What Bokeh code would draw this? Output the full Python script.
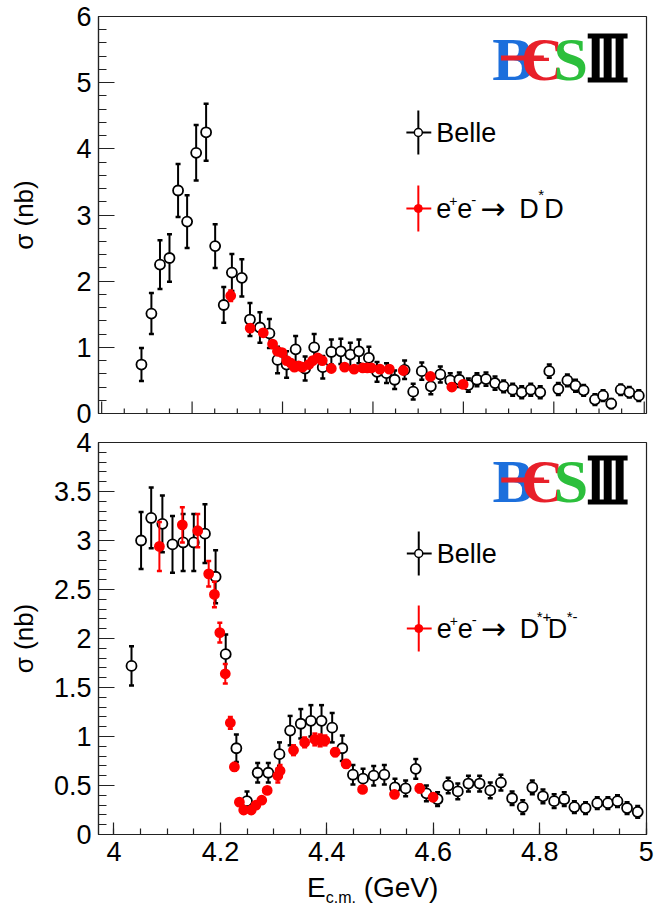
import numpy as np
from bokeh.plotting import figure
from bokeh.models import Range1d, SingleIntervalTicker, Label, Div, BoxAnnotation
from bokeh.layouts import column
from bokeh.embed import file_html
from bokeh.resources import INLINE

# ---------------- data: top panel (e+e- -> D* D) ----------------
belle_dd_x = [3.888, 3.910, 3.929, 3.950, 3.969, 3.989, 4.009, 4.031, 4.051, 4.070,
              4.088, 4.110, 4.128, 4.150, 4.171, 4.189, 4.209, 4.229, 4.250, 4.270,
              4.289, 4.308, 4.329, 4.350, 4.369, 4.391, 4.409, 4.430, 4.448, 4.470,
              4.489, 4.508, 4.528, 4.549, 4.571, 4.591, 4.611, 4.630, 4.650, 4.670,
              4.689, 4.709, 4.729, 4.749, 4.770, 4.790, 4.810, 4.830, 4.848, 4.866,
              4.891, 4.909, 4.927, 4.948, 4.967, 4.988]
belle_dd_y = [0.74, 1.51, 2.25, 2.35, 3.37, 2.90, 3.94, 4.25, 2.53, 1.64,
              2.13, 2.05, 1.42, 1.30, 1.21, 0.81, 0.74, 0.97, 0.68, 1.00,
              0.70, 0.93, 0.94, 0.89, 0.94, 0.84, 0.63, 0.61, 0.51, 0.66,
              0.33, 0.64, 0.41, 0.59, 0.50, 0.51, 0.43, 0.51, 0.52, 0.46,
              0.41, 0.36, 0.32, 0.36, 0.32, 0.64, 0.37, 0.50, 0.42, 0.35,
              0.21, 0.27, 0.15, 0.36, 0.32, 0.27]
belle_dd_err = [0.25, 0.31, 0.37, 0.36, 0.40, 0.40, 0.42, 0.43, 0.33, 0.27,
                0.28, 0.28, 0.25, 0.23, 0.22, 0.20, 0.20, 0.20, 0.18, 0.20,
                0.17, 0.19, 0.19, 0.18, 0.18, 0.17, 0.15, 0.15, 0.14, 0.14,
                0.12, 0.13, 0.12, 0.12, 0.11, 0.11, 0.10, 0.10, 0.10, 0.10,
                0.09, 0.09, 0.09, 0.09, 0.09, 0.10, 0.09, 0.09, 0.09, 0.08,
                0.08, 0.08, 0.07, 0.08, 0.08, 0.08]

bes_dd_x = [4.0854, 4.1285, 4.1574, 4.1780, 4.1888, 4.1989, 4.2092, 4.2187, 4.2263,
            4.2357, 4.2438, 4.2580, 4.2668, 4.2777, 4.2879, 4.3079, 4.3374, 4.3583,
            4.3774, 4.3874, 4.3964, 4.4156, 4.4362, 4.4671, 4.5271, 4.5745, 4.5995]
bes_dd_y = [1.78, 1.29, 1.22, 1.05, 0.94, 0.92, 0.80, 0.76, 0.70,
            0.72, 0.70, 0.74, 0.80, 0.84, 0.80, 0.68, 0.70, 0.67,
            0.69, 0.69, 0.69, 0.67, 0.67, 0.65, 0.56, 0.40, 0.44]
bes_dd_err = [0.08, 0.05, 0.05, 0.03, 0.04, 0.04, 0.04, 0.04, 0.03,
              0.04, 0.04, 0.04, 0.04, 0.04, 0.04, 0.04, 0.04, 0.04,
              0.04, 0.04, 0.04, 0.04, 0.04, 0.04, 0.05, 0.05, 0.05]

# ---------------- data: bottom panel (e+e- -> D*+ D*-) ----------------
belle_dsds_x = [4.033, 4.051, 4.070, 4.091, 4.110, 4.130, 4.150, 4.171, 4.191, 4.210,
                4.230, 4.250, 4.270, 4.290, 4.311, 4.331, 4.351, 4.370, 4.390, 4.410,
                4.429, 4.449, 4.468, 4.488, 4.508, 4.528, 4.548, 4.567, 4.587, 4.608,
                4.628, 4.646, 4.666, 4.687, 4.707, 4.727, 4.748, 4.768, 4.786, 4.806,
                4.827, 4.846, 4.865, 4.886, 4.908, 4.928, 4.946, 4.964, 4.984]
belle_dsds_y = [1.72, 3.00, 3.23, 3.17, 2.96, 2.98, 2.98, 3.07, 2.63, 1.84,
                0.88, 0.34, 0.63, 0.63, 0.82, 1.06, 1.13, 1.16, 1.16, 1.09,
                0.88, 0.61, 0.57, 0.60, 0.61, 0.48, 0.47, 0.67, 0.42, 0.36,
                0.50, 0.44, 0.52, 0.52, 0.45, 0.53, 0.37, 0.28, 0.48, 0.39,
                0.34, 0.36, 0.28, 0.27, 0.32, 0.32, 0.34, 0.27, 0.23]
belle_dsds_err = [0.20, 0.29, 0.31, 0.29, 0.29, 0.29, 0.29, 0.30, 0.27, 0.20,
                  0.14, 0.10, 0.10, 0.10, 0.12, 0.15, 0.15, 0.16, 0.16, 0.15,
                  0.13, 0.10, 0.10, 0.10, 0.10, 0.09, 0.08, 0.10, 0.08, 0.07,
                  0.08, 0.08, 0.08, 0.08, 0.08, 0.08, 0.07, 0.07, 0.07, 0.07,
                  0.07, 0.07, 0.06, 0.06, 0.06, 0.06, 0.06, 0.06, 0.06]

bes_dsds_x = [4.0854, 4.1285, 4.1574, 4.1780, 4.1888, 4.1989, 4.2092, 4.2187, 4.2263,
              4.2357, 4.2438, 4.2580, 4.2668, 4.2777, 4.2879, 4.3079, 4.3121, 4.3374,
              4.3583, 4.3774, 4.3874, 4.3964, 4.4156, 4.4362, 4.4671, 4.5271, 4.5745,
              4.5995]
bes_dsds_y = [2.94, 3.16, 3.10, 2.66, 2.45, 2.06, 1.64, 1.14, 0.69,
              0.33, 0.25, 0.25, 0.30, 0.35, 0.45, 0.60, 0.65, 0.86,
              0.94, 0.97, 0.96, 0.96, 0.84, 0.72, 0.46, 0.41, 0.47,
              0.38]
bes_dsds_err = [0.25, 0.18, 0.17, 0.13, 0.13, 0.10, 0.10, 0.06, 0.04,
                0.03, 0.03, 0.03, 0.03, 0.03, 0.03, 0.07, 0.06, 0.05,
                0.05, 0.06, 0.06, 0.05, 0.04, 0.04, 0.03, 0.03, 0.04,
                0.03]

top_ytick_labels = ["0", "1", "2", "3", "4", "5", "6"]
bot_ytick_labels = ["0", "0.5", "1", "1.5", "2", "2.5", "3", "3.5", "4"]
bot_xtick_labels = ["4", "4.2", "4.4", "4.6", "4.8", "5"]

FONT = "Liberation Sans"
TICK_FS = "27px"
AX = "#222222"


def style(p, ytick_interval, ylabels):
    p.xgrid.visible = False
    p.ygrid.visible = False
    p.outline_line_color = AX
    p.outline_line_width = 1.2
    p.background_fill_color = "white"
    p.border_fill_color = "white"
    p.xaxis.ticker = SingleIntervalTicker(interval=0.2, num_minor_ticks=4)
    p.yaxis.ticker = SingleIntervalTicker(interval=ytick_interval, num_minor_ticks=5)
    for ax in (p.xaxis[0], p.yaxis[0]):
        ax.axis_line_color = AX
        ax.axis_line_width = 1.2
        ax.major_tick_line_color = AX
        ax.minor_tick_line_color = AX
        ax.major_tick_line_width = 1.2
        ax.minor_tick_line_width = 1.2
        ax.major_tick_out = 0
        ax.minor_tick_out = 0
        ax.major_label_text_font = FONT
        ax.major_label_text_font_size = TICK_FS
        ax.major_label_text_color = "black"
        ax.axis_label_text_font = FONT
        ax.axis_label_text_font_size = "26px"
        ax.axis_label_text_font_style = "normal"
        ax.axis_label_text_color = "black"
    p.xaxis.major_tick_in = 12
    p.xaxis.minor_tick_in = 6
    p.yaxis.major_tick_in = 16
    p.yaxis.minor_tick_in = 8
    p.yaxis.major_label_standoff = 7
    p.yaxis.major_label_overrides = {i * ytick_interval: s for i, s in enumerate(ylabels)}
    p.yaxis.axis_label = "σ (nb)"


def draw_points(p, x, y, err, color, filled, size):
    x = np.asarray(x); y = np.asarray(y); e = np.asarray(err)
    p.segment(x0=x, y0=y - e, x1=x, y1=y + e, line_color=color, line_width=2)
    p.scatter(x=np.concatenate([x, x]), y=np.concatenate([y - e, y + e]),
              marker="dash", size=5, line_color=color, line_width=2.5)
    p.scatter(x=x, y=y, marker="circle", size=size,
              fill_color=color if filled else "white",
              line_color=color, line_width=1.8)


def make_mapper(X0, X1, x0, x1, Y0, Y1, y0, y1):
    def m(X, Y):
        return (x0 + (X - X0) * (x1 - x0) / (X1 - X0),
                y0 + (Y - Y0) * (y1 - y0) / (Y1 - Y0))
    return m


def text(p, x, y, s, size="26px", color="black", xoff=0, yoff=0, font=FONT,
         align="left", bold=False):
    p.add_layout(Label(x=x, y=y, text=s, x_offset=xoff, y_offset=yoff,
                       text_font=font, text_font_size=size, text_color=color,
                       text_baseline="middle", text_align=align,
                       text_font_style="bold" if bold else "normal"))


def logo(p, m, X, Y):
    # X, Y : pixel position of the logo's top-left corner (decoration only)
    blue, red, green = "#1c6fdc", "#e8202a", "#2cbf3c"
    H = 49
    for ch, cx, col in (("B", 13, blue), ("Є", 42, red), ("S", 71, green)):
        xx, yy = m(X + cx, Y + H / 2 + 1)
        text(p, xx, yy, ch, size="62px", color=col, font="Liberation Sans Narrow",
             align="center", bold=True)
    # red stroke running across the B (drawn above the letters)
    xa, yt = m(X + 1, Y + H / 2 - 2.5)
    xc, yb = m(X + 44, Y + H / 2 + 2.5)
    p.add_layout(BoxAnnotation(left=xa, right=xc, top=yt, bottom=yb,
                               fill_color=red, fill_alpha=1.0, line_color=None))
    bx0 = X + 88
    bars = [(bx0 + 4 + k * 12, bx0 + 12 + k * 12, Y + 2, Y + H - 2) for k in range(3)]
    bars.append((bx0, bx0 + 40, Y, Y + 5))
    bars.append((bx0, bx0 + 40, Y + H - 5, Y + H))
    L, R, T, B = [], [], [], []
    for (a, b, c, d) in bars:
        xl, ytt = m(a, c)
        xr, ybm = m(b, d)
        L.append(xl); R.append(xr); T.append(ytt); B.append(ybm)
    p.quad(left=L, right=R, top=T, bottom=B, fill_color="black", line_color=None)


def legend(p, m, X, Yb, Yr, pieces):
    xm, yb = m(X, Yb)
    x0, yb0 = m(X - 12, Yb - 22)
    x1, yb1 = m(X + 13, Yb + 22)
    p.segment(x0=[xm], y0=[yb0], x1=[xm], y1=[yb1], line_color="black", line_width=2)
    p.segment(x0=[x0], y0=[yb], x1=[x1], y1=[yb], line_color="black", line_width=2)
    p.scatter(x=[xm], y=[yb], marker="circle", size=8, fill_color="white",
              line_color="black", line_width=1.5)
    xt, _ = m(X + 18, Yb)
    text(p, xt, yb, "Belle", size="27px")
    xm, yr = m(X, Yr)
    _, yr0 = m(X, Yr - 23)
    _, yr1 = m(X, Yr + 23)
    p.segment(x0=[xm], y0=[yr0], x1=[xm], y1=[yr1], line_color="red", line_width=2)
    p.segment(x0=[x0], y0=[yr], x1=[x1], y1=[yr], line_color="red", line_width=2)
    p.scatter(x=[xm], y=[yr], marker="circle", size=8, fill_color="red",
              line_color="red")
    xt, _ = m(X + 18, Yr)
    for s, dx, dy, fs, fnt in pieces:
        text(p, xt, yr, s, size=fs, xoff=dx, yoff=dy, font=fnt)


LEG_COMMON = [("e", 0, 0, "27px", FONT), ("+", 13, 8, "14px", FONT),
              ("e", 21, 0, "27px", FONT), ("-", 35, 9, "15px", FONT),
              ("→", 44, 0, "30px", "DejaVu Sans")]

# ---------------- top figure ----------------
p1 = figure(width=656, height=428, output_backend="svg", toolbar_location=None,
            x_range=Range1d(3.793, 5.005), y_range=Range1d(0, 6),
            min_border_left=96, min_border_right=10, min_border_top=16,
            min_border_bottom=15)
style(p1, 1, top_ytick_labels)
p1.xaxis.visible = False
p1.yaxis.axis_label_standoff = 34
# ticks of the (unlabelled) top x axis, inside the frame
xt_all = np.round(np.arange(3.8, 5.0001, 0.05), 3)
xt_major = xt_all[np.isclose((xt_all * 10) % 2, 0) | np.isclose((xt_all * 10) % 2, 2)]
xt_minor = np.setdiff1d(xt_all, xt_major)
p1.segment(x0=xt_major, y0=0, x1=xt_major, y1=12 * 6 / 397, line_color=AX, line_width=1.2)
p1.segment(x0=xt_minor, y0=0, x1=xt_minor, y1=5 * 6 / 397, line_color=AX, line_width=1.2)

draw_points(p1, belle_dd_x, belle_dd_y, belle_dd_err, "black", False, 10)
draw_points(p1, bes_dd_x, bes_dd_y, bes_dd_err, "red", True, 9)
m1 = make_mapper(96, 646, 3.793, 5.005, 413, 16, 0, 6)
logo(p1, m1, 499, 33)
legend(p1, m1, 417, 132, 208,
       LEG_COMMON + [("D", 83, 0, "27px", FONT), ("*", 102, 14, "15px", FONT),
                     ("D", 108, 0, "27px", FONT)])

# ---------------- bottom figure ----------------
p2 = figure(width=656, height=447, output_backend="svg", toolbar_location=None,
            x_range=Range1d(3.971, 5.0005), y_range=Range1d(0, 4),
            min_border_left=98, min_border_right=7, min_border_top=14,
            min_border_bottom=41)
style(p2, 0.5, bot_ytick_labels)
p2.yaxis.axis_label_standoff = 12
p2.xaxis.major_label_standoff = 7
p2.xaxis.major_label_overrides = {round(4 + 0.2 * i, 1): s for i, s in enumerate(bot_xtick_labels)}
draw_points(p2, belle_dsds_x, belle_dsds_y, belle_dsds_err, "black", False, 10)
draw_points(p2, bes_dsds_x, bes_dsds_y, bes_dsds_err, "red", True, 9)
m2 = make_mapper(98, 649, 3.971, 5.0005, 834, 442, 0, 4)
logo(p2, m2, 502, 455)
legend(p2, m2, 420, 553, 628,
       LEG_COMMON + [("D", 83, 0, "27px", FONT), ("*+", 100, 12, "15px", FONT),
                     ("D", 111, 0, "27px", FONT), ("*-", 130, 12, "15px", FONT)])

xlabel = Div(text='E<sub style="font-size:16px; vertical-align:-6px">c.m.</sub> (GeV)',
             width=656, height=32, margin=(0, 0, 0, 0),
             styles={"font-family": "Liberation Sans", "font-size": "28px",
                     "padding-left": "307px", "line-height": "26px", "color": "black"})

layout = column(p1, p2, xlabel, spacing=0)
open("out.html", "w").write(file_html(layout, INLINE))
